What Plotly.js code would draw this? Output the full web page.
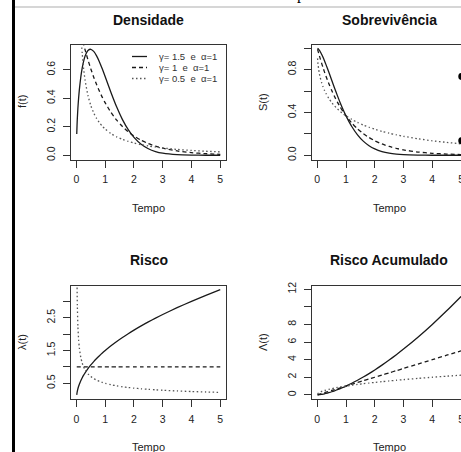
<!DOCTYPE html>
<html>
<head>
<meta charset="utf-8">
<script src="https://cdn.plot.ly/plotly-3.0.1.min.js"></script>
<style>
  html, body { margin: 0; padding: 0; background: #ffffff; overflow: hidden; }
  #chart { width: 480px; height: 452px; }
</style>
</head>
<body>
<div id="chart"></div>
<script>
// Weibull curves (alpha = 1) for three shape values, sampled on a time grid
const tempo = [0.01, 0.02, 0.03, 0.05, 0.075, 0.1, 0.15, 0.2, 0.25, 0.3, 0.4, 0.5, 0.6, 0.7, 0.8, 0.9,
               1.0, 1.2, 1.4, 1.6, 1.8, 2.0, 2.25, 2.5, 2.75, 3.0, 3.5, 4.0, 4.5, 5.0];

// Densidade f(t)
const dens_g15 = [0.1499, 0.2115, 0.2585, 0.3317, 0.4024, 0.4596, 0.5482, 0.6134, 0.6619, 0.6971, 0.7366, 0.7448,
                  0.7300, 0.6987, 0.6560, 0.6059, 0.5518, 0.4414, 0.3386, 0.2507, 0.1799, 0.1254, 0.0770, 0.0455,
                  0.0260, 0.0144, 0.0040, 0.0010, 0.0002, 0.0001];
const dens_g1  = [0.9900, 0.9802, 0.9704, 0.9512, 0.9277, 0.9048, 0.8607, 0.8187, 0.7788, 0.7408, 0.6703, 0.6065,
                  0.5488, 0.4966, 0.4493, 0.4066, 0.3679, 0.3012, 0.2466, 0.2019, 0.1653, 0.1353, 0.1054, 0.0821,
                  0.0639, 0.0498, 0.0302, 0.0183, 0.0111, 0.0067];
const dens_g05 = [4.5242, 3.0693, 2.4277, 1.7880, 1.3884, 1.1525, 0.8764, 0.7149, 0.6065, 0.5279, 0.4200, 0.3487,
                  0.2975, 0.2589, 0.2285, 0.2041, 0.1839, 0.1526, 0.1294, 0.1116, 0.0974, 0.0860, 0.0744, 0.0651,
                  0.0574, 0.0511, 0.0412, 0.0338, 0.0283, 0.0239];

// Sobrevivência S(t)
const surv_g15 = [0.9990, 0.9972, 0.9948, 0.9889, 0.9797, 0.9689, 0.9436, 0.9144, 0.8825, 0.8485, 0.7765, 0.7022,
                  0.6283, 0.5568, 0.4889, 0.4258, 0.3679, 0.2686, 0.1908, 0.1321, 0.0894, 0.0591, 0.0342, 0.0192,
                  0.0105, 0.0055, 0.0014, 0.0003, 0.0001, 0.0000];
const surv_g1  = dens_g1.slice();
const surv_g05 = [0.9048, 0.8681, 0.8410, 0.7996, 0.7605, 0.7289, 0.6789, 0.6394, 0.6065, 0.5783, 0.5313, 0.4931,
                  0.4609, 0.4332, 0.4088, 0.3873, 0.3679, 0.3344, 0.3063, 0.2823, 0.2614, 0.2431, 0.2231, 0.2058,
                  0.1905, 0.1769, 0.1540, 0.1353, 0.1199, 0.1069];

// Risco λ(t)
const haz_g15 = [0.1500, 0.2121, 0.2598, 0.3354, 0.4108, 0.4743, 0.5809, 0.6708, 0.7500, 0.8216, 0.9487, 1.0607,
                 1.1619, 1.2550, 1.3416, 1.4230, 1.5000, 1.6432, 1.7748, 1.8974, 2.0125, 2.1213, 2.2500, 2.3717,
                 2.4875, 2.5981, 2.8062, 3.0000, 3.1820, 3.3541];
const haz_g1  = [1, 1, 1, 1, 1, 1, 1, 1, 1, 1, 1, 1, 1, 1, 1, 1, 1, 1, 1, 1, 1, 1, 1, 1, 1, 1, 1, 1, 1, 1];
const haz_g05 = [5.0000, 3.5355, 2.8868, 2.2361, 1.8257, 1.5811, 1.2910, 1.1180, 1.0000, 0.9129, 0.7906, 0.7071,
                 0.6455, 0.5976, 0.5590, 0.5270, 0.5000, 0.4564, 0.4226, 0.3953, 0.3727, 0.3536, 0.3333, 0.3162,
                 0.3015, 0.2887, 0.2673, 0.2500, 0.2357, 0.2236];

// Risco Acumulado Λ(t)
const cum_g15 = [0.0010, 0.0028, 0.0052, 0.0112, 0.0205, 0.0316, 0.0581, 0.0894, 0.1250, 0.1643, 0.2530, 0.3536,
                 0.4648, 0.5857, 0.7155, 0.8538, 1.0000, 1.3145, 1.6565, 2.0239, 2.4150, 2.8284, 3.3750, 3.9528,
                 4.5604, 5.1962, 6.5479, 8.0000, 9.5459, 11.1803];
const cum_g1  = tempo.slice();
const cum_g05 = [0.1000, 0.1414, 0.1732, 0.2236, 0.2739, 0.3162, 0.3873, 0.4472, 0.5000, 0.5477, 0.6325, 0.7071,
                 0.7746, 0.8367, 0.8944, 0.9487, 1.0000, 1.0954, 1.1832, 1.2649, 1.3416, 1.4142, 1.5000, 1.5811,
                 1.6583, 1.7321, 1.8708, 2.0000, 2.1213, 2.2361];

// Axis ticks
const xTicks = [0, 1, 2, 3, 4, 5];
const xTickText = ['0', '1', '2', '3', '4', '5'];
const densTicks = [0, 0.2, 0.4, 0.6];
const densTickText = ['0.0', '0.2', '0.4', '0.6'];
const survTicks = [0, 0.2, 0.4, 0.6, 0.8, 1.0];
const survTickText = ['0.0', '', '0.4', '', '0.8', ''];
const hazTicks = [0.5, 1.0, 1.5, 2.0, 2.5, 3.0];
const hazTickText = ['0.5', '', '1.5', '', '2.5', ''];
const cumTicks = [0, 2, 4, 6, 8, 10, 12];
const cumTickText = ['0', '2', '4', '6', '8', '', '12'];

const legendLabels = ['γ= 1.5  e  α=1', 'γ= 1  e  α=1', 'γ= 0.5  e  α=1'];

// ---- drawing ----
const W = 480, H = 452;
const px = v => v / W;           // horizontal pixel -> paper
const py = v => 1 - v / H;       // vertical pixel -> paper

const styles = [
  { color: '#1a1a1a', width: 1.3, dash: 'solid' },
  { color: '#1a1a1a', width: 1.3, dash: '4px,3px' },
  { color: '#555555', width: 1.3, dash: '1.5px,2.5px' }
];

function curves(series, xa, ya) {
  return series.map((ys, i) => ({
    type: 'scatter', mode: 'lines', x: tempo, y: ys, xaxis: xa, yaxis: ya,
    line: { color: styles[i].color, width: styles[i].width, dash: styles[i].dash, shape: 'spline', smoothing: 0.6 },
    hoverinfo: 'skip', showlegend: false
  }));
}

const data = [].concat(
  curves([dens_g15, dens_g1, dens_g05], 'x', 'y'),
  curves([surv_g15, surv_g1, surv_g05], 'x2', 'y2'),
  curves([haz_g15, haz_g1, haz_g05], 'x3', 'y3'),
  curves([cum_g15, cum_g1, cum_g05], 'x4', 'y4')
);

const axisBase = {
  showline: true, mirror: true, linecolor: '#333', linewidth: 1,
  ticks: 'outside', ticklen: 7, tickwidth: 1, tickcolor: '#333',
  showgrid: false, zeroline: false, fixedrange: true,
  tickfont: { size: 10.5, color: '#222' }
};
const xRange = [-0.19, 5.2];
const colL = [px(71), px(226)], colR = [px(311.8), px(466.8)];
const rowT = [py(159.5), py(45)], rowB = [py(399), py(285.5)];

function xAxis(dom, anchor) {
  return Object.assign({}, axisBase, { domain: dom, anchor: anchor, range: xRange,
    tickmode: 'array', tickvals: xTicks, ticktext: xTickText, ticklabelstandoff: 3 });
}
function yAxis(dom, anchor, rng, tv, tt) {
  return Object.assign({}, axisBase, { domain: dom, anchor: anchor, range: rng,
    tickmode: 'array', tickvals: tv, ticktext: tt, tickangle: -90, ticklabelstandoff: 4 });
}

const titleFont = { family: 'Liberation Sans, Arial, sans-serif', size: 14, color: '#111' };
const labFont = { family: 'Liberation Sans, Arial, sans-serif', size: 11, color: '#222' };

function ann(text, x, y, font, extra) {
  return Object.assign({ text: text, xref: 'paper', yref: 'paper', x: px(x), y: py(y),
    xanchor: 'center', yanchor: 'middle', showarrow: false, font: font }, extra || {});
}

const annotations = [
  ann('<b>Densidade</b>', 148.5, 20, titleFont),
  ann('<b>Sobrevivência</b>', 389.3, 20, titleFont),
  ann('<b>Risco</b>', 148.5, 259.5, titleFont),
  ann('<b>Risco Acumulado</b>', 389.3, 259.5, titleFont),
  ann('Tempo', 148.5, 208, labFont),
  ann('Tempo', 389.3, 208, labFont),
  ann('Tempo', 148.5, 446.5, labFont),
  ann('Tempo', 389.3, 446.5, labFont),
  ann('f(t)', 22, 102, labFont, { textangle: -90 }),
  ann('S(t)', 263, 102, labFont, { textangle: -90 }),
  ann('λ(t)', 22, 342, labFont, { textangle: -90 }),
  ann('Λ(t)', 263, 342, labFont, { textangle: -90 }),
  // fragment of the page text above the figure
  ann('p', 301, 0, { family: 'Liberation Serif, serif', size: 16, color: '#000' }, { yanchor: 'bottom', yshift: -5 })
];

const legendRows = [56.5, 67.5, 78.5];
const shapes = [];
legendLabels.forEach((lab, i) => {
  annotations.push(ann(lab, 157, legendRows[i], { family: 'Liberation Sans, Arial, sans-serif', size: 9.5, color: '#333' },
    { xanchor: 'left' }));
  shapes.push({ type: 'line', xref: 'paper', yref: 'paper', x0: px(132), x1: px(147), y0: py(legendRows[i]), y1: py(legendRows[i]),
    line: { color: styles[i].color, width: styles[i].width, dash: styles[i].dash } });
});

// page decorations around the figure
shapes.push({ type: 'line', xref: 'paper', yref: 'paper', x0: px(13.5), x1: px(13.5), y0: 0, y1: 1,
  line: { color: '#000', width: 3 } });
shapes.push({ type: 'line', xref: 'paper', yref: 'paper', x0: px(15), x1: 1, y0: py(7), y1: py(7),
  line: { color: '#c8c8c8', width: 1.5 } });
[76.5, 140.8].forEach(cy => {
  shapes.push({ type: 'circle', xref: 'paper', yref: 'paper', x0: px(458.3), x1: px(465.3), y0: py(cy + 3.5), y1: py(cy - 3.5),
    fillcolor: '#000', line: { color: '#000', width: 0 } });
});

const layout = {
  width: W, height: H,
  margin: { l: 0, r: 0, t: 0, b: 0, pad: 0 },
  paper_bgcolor: '#fff', plot_bgcolor: '#fff',
  showlegend: false,
  font: { family: 'Liberation Sans, Arial, sans-serif', size: 10.5, color: '#222' },
  xaxis:  xAxis(colL, 'y'),
  yaxis:  yAxis(rowT, 'x', [-0.0298, 0.7748], densTicks, densTickText),
  xaxis2: xAxis(colR, 'y2'),
  yaxis2: yAxis(rowT, 'x2', [-0.0396, 1.0295], survTicks, survTickText),
  xaxis3: xAxis(colL, 'y3'),
  yaxis3: yAxis(rowB, 'x3', [0.022, 3.482], hazTicks, hazTickText),
  xaxis4: xAxis(colR, 'y4'),
  yaxis4: yAxis(rowB, 'x4', [-0.47, 12.42], cumTicks, cumTickText),
  annotations: annotations,
  shapes: shapes
};

Plotly.newPlot('chart', data, layout, { staticPlot: true, displayModeBar: false });
</script>
</body>
</html>
